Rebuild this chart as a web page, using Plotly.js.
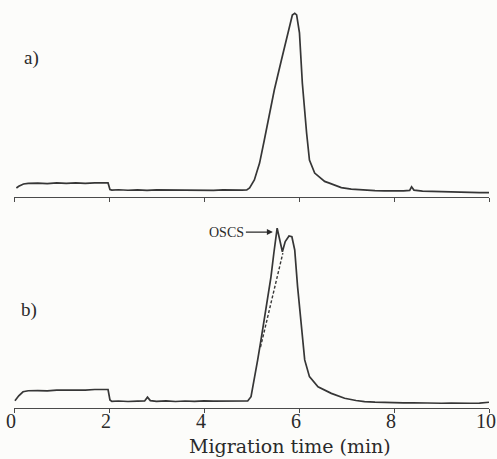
<!DOCTYPE html>
<html>
<head>
<meta charset="utf-8">
<script src="https://cdn.plot.ly/plotly-3.0.1.min.js"></script>
<style>
  html, body { margin: 0; padding: 0; background: #fcfcfa; }
  #chart { width: 497px; height: 459px; }
</style>
</head>
<body>
<div id="chart"></div>
<script>
// Panel a) electropherogram
const time_a = [0.05, 0.1, 0.2, 0.3, 0.5, 0.7, 0.9, 1.1, 1.3, 1.5, 1.7, 1.9, 1.98, 2.02, 2.06, 2.2, 2.4, 2.6, 2.8, 3.0, 3.2, 3.4, 3.6, 3.8, 4.0, 4.2, 4.4, 4.6, 4.8, 4.9, 4.96, 5.06, 5.17, 5.27, 5.38, 5.48, 5.63, 5.76, 5.86, 5.91, 5.95, 6.01, 6.07, 6.16, 6.22, 6.33, 6.54, 6.64, 6.89, 7.1, 7.38, 7.6, 7.8, 8.0, 8.2, 8.33, 8.37, 8.42, 8.6, 8.8, 9.0, 9.2, 9.4, 9.6, 9.8, 10.0];
const signal_a = [0.6, 1.6, 2.9, 3.3, 3.4, 3.1, 3.5, 3.3, 3.6, 3.3, 3.6, 3.5, 3.5, -0.3, -0.6, -0.4, -0.7, -0.5, -0.8, -0.5, -0.6, -0.4, -0.7, -0.5, -0.6, -0.8, -0.5, -0.7, -0.6, -0.5, 0.6, 5.2, 14.9, 28.2, 42.5, 56.9, 74.1, 89.7, 100, 101, 100, 89.7, 60.9, 32.2, 16.7, 9.2, 4.4, 3.4, 0.8, 0.0, -0.6, -0.9, -1.0, -1.1, -1.0, -0.8, 1.3, -0.6, -1.2, -1.3, -1.5, -1.4, -1.7, -1.8, -2.0, -2.0];

// Panel b) electropherogram
const time_b = [0.02, 0.1, 0.19, 0.3, 0.5, 0.7, 0.9, 1.1, 1.3, 1.5, 1.7, 1.9, 1.98, 2.02, 2.06, 2.2, 2.4, 2.6, 2.75, 2.81, 2.87, 3.0, 3.2, 3.4, 3.6, 3.8, 4.0, 4.2, 4.4, 4.6, 4.8, 4.92, 4.99, 5.06, 5.13, 5.20, 5.27, 5.34, 5.41, 5.47, 5.52, 5.54, 5.58, 5.65, 5.71, 5.79, 5.85, 5.91, 5.97, 6.05, 6.12, 6.22, 6.40, 6.68, 6.96, 7.2, 7.38, 7.6, 7.8, 8.0, 8.2, 8.4, 8.6, 8.8, 9.0, 9.2, 9.4, 9.6, 9.8, 9.95, 10.0];
const signal_b = [0.2, 3.0, 5.3, 5.9, 6.0, 5.8, 6.2, 6.1, 6.4, 6.3, 6.6, 6.5, 6.6, 0.6, -0.2, 0.0, -0.3, -0.1, 0.0, 2.2, 0.2, -0.2, 0.1, -0.3, 0.0, -0.2, 0.1, -0.1, 0.0, -0.2, 0.1, 0.0, 2.5, 12.1, 23.6, 35.1, 46.6, 58.0, 71.4, 84.9, 96.4, 99.3, 94.4, 85.8, 91.6, 94.8, 94.4, 86.8, 65.7, 40.8, 23.6, 14.0, 8.2, 4.4, 1.6, 0.3, -0.4, -0.7, -0.9, -0.8, -1.1, -1.0, -1.2, -1.1, -1.3, -1.2, -1.4, -1.3, -1.2, -0.9, -0.7];

// Dashed line under the OSCS shoulder
const dashed_x = [5.19, 5.66];
const dashed_y = [31, 85];

const tickVals = [0, 2, 4, 6, 8, 10];
const tickText = ['0', '2', '4', '6', '8', '10'];

const lineColor = '#363636';
const axisColor = '#4a4a4a';
const textColor = '#2a2a2a';
const serif = 'Liberation Serif, Times New Roman, serif';

const traces = [
  { x: time_a, y: signal_a, xaxis: 'x2', yaxis: 'y2', mode: 'lines',
    line: { color: lineColor, width: 1.7 }, hoverinfo: 'skip' },
  { x: time_b, y: signal_b, xaxis: 'x', yaxis: 'y', mode: 'lines',
    line: { color: lineColor, width: 1.7 }, hoverinfo: 'skip' },
  { x: dashed_x, y: dashed_y, xaxis: 'x', yaxis: 'y', mode: 'lines',
    line: { color: lineColor, width: 1.4, dash: '3px,2px' }, hoverinfo: 'skip' }
];

const baseX = {
  range: [0, 10], showgrid: false, zeroline: false, showline: true,
  linecolor: axisColor, linewidth: 1.2, ticks: 'outside', ticklen: 4,
  tickwidth: 1, tickcolor: axisColor, tickmode: 'array',
  tickvals: tickVals, ticktext: tickText, fixedrange: true
};

const layout = {
  width: 497, height: 459,
  margin: { l: 14, r: 8, t: 0, b: 51 },
  paper_bgcolor: '#fcfcfa', plot_bgcolor: '#fcfcfa',
  showlegend: false,
  xaxis: Object.assign({}, baseX, {
    anchor: 'y', domain: [0, 1],
    tickfont: { family: serif, size: 20, color: textColor },
    ticklabeloverflow: 'allow', ticklabelstandoff: -9, ticklabelshift: -3,
    automargin: false
  }),
  xaxis2: Object.assign({}, baseX, {
    anchor: 'y2', domain: [0, 1], showticklabels: false, matches: 'x'
  }),
  yaxis: { domain: [0, 0.456], range: [-4.02, 102.9], visible: false, fixedrange: true },
  yaxis2: { domain: [0.517, 1], range: [-4.6, 108.6], visible: false, fixedrange: true },
  annotations: [
    { text: 'Migration time (min)', xref: 'paper', yref: 'paper', x: 0.582, y: -0.1225,
      xanchor: 'center', yanchor: 'bottom', showarrow: false, borderpad: 0,
      font: { family: 'DejaVu Serif, serif', size: 19, color: textColor } },
    { text: 'a)', xref: 'paper', yref: 'paper', x: 0.036, y: 0.858,
      xanchor: 'center', yanchor: 'middle',
      showarrow: false, font: { family: serif, size: 19, color: textColor } },
    { text: 'b)', xref: 'paper', yref: 'paper', x: 0.032, y: 0.240,
      xanchor: 'center', yanchor: 'middle',
      showarrow: false, font: { family: serif, size: 19, color: textColor } },
    { text: 'OSCS', xref: 'x', yref: 'y', x: 5.45, y: 97.1, ax: -46, ay: 0,
      showarrow: true, arrowhead: 2, arrowsize: 1, arrowwidth: 1.2,
      arrowcolor: textColor,
      font: { family: serif, size: 14, color: textColor } }
  ]
};

Plotly.newPlot('chart', traces, layout, { staticPlot: true, displayModeBar: false });
</script>
</body>
</html>
